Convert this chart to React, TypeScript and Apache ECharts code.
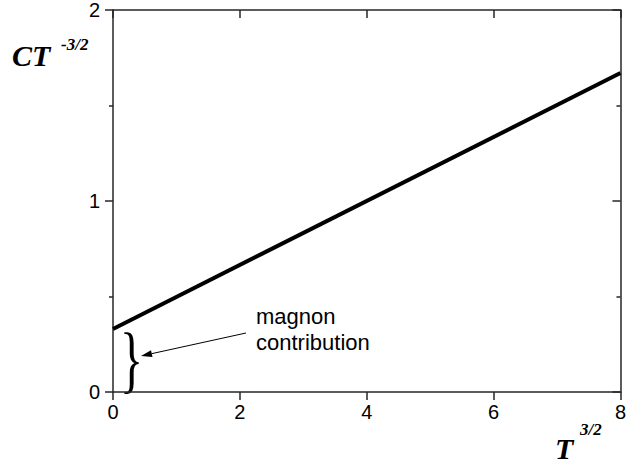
import React, { useEffect, useRef } from "react";
import * as echarts from "echarts";

// Linear fit of C/T^{3/2} against T^{3/2}
const xValues = [0, 8];
const yValues = [0.33, 1.67];
const xTicks = [0, 2, 4, 6, 8];
const yTicks = [0, 1, 2];

const AXIS_COLOR = "#262626";
const SANS = "'Liberation Sans', Arial, sans-serif";
const SERIF = "'Liberation Serif', 'Times New Roman', serif";

export default function App() {
  const ref = useRef<HTMLDivElement>(null);

  useEffect(() => {
    if (!ref.current) return;
    const chart = echarts.init(ref.current, undefined, { renderer: "svg" });

    const mkLine = () => ({ show: true, onZero: false, lineStyle: { color: AXIS_COLOR, width: 1.5 } });
    const mkTick = (inside: boolean, length: number) => ({
      show: true,
      inside,
      length,
      lineStyle: { color: AXIS_COLOR, width: 1.5 },
    });
    const minor = () => ({ show: true, splitNumber: 2, length: 4, lineStyle: { color: AXIS_COLOR, width: 1.5 } });
    const xBase = () => ({
      type: "value" as const,
      min: xTicks[0],
      max: xTicks[xTicks.length - 1],
      interval: 2,
      splitLine: { show: false },
      axisLine: mkLine(),
    });
    const yBase = () => ({
      type: "value" as const,
      min: yTicks[0],
      max: yTicks[yTicks.length - 1],
      interval: 1,
      splitLine: { show: false },
      axisLine: mkLine(),
    });

    // arrow from the note to the brace
    const ax0 = 246, ay0 = 333, ax1 = 141, ay1 = 356;
    const ang = Math.atan2(ay1 - ay0, ax1 - ax0);
    const headLen = 11, headHalf = 3.5;
    const bx = ax1 - headLen * Math.cos(ang);
    const by = ay1 - headLen * Math.sin(ang);
    const nx = -Math.sin(ang), ny = Math.cos(ang);

    const text = (x: number, y: number, s: string, font: string, extra: any = {}) => ({
      type: "text",
      x,
      y,
      ...extra,
      style: { text: s, font, fill: "#000", textVerticalAlign: "middle" },
    });

    chart.setOption({
      animation: false,
      grid: { left: 113, top: 9, width: 517, height: 383 },
      xAxis: [
        {
          ...xBase(),
          position: "bottom",
          axisTick: mkTick(false, 8),
          axisLabel: { show: true, margin: 10, fontSize: 20, fontFamily: SANS, color: "#000" },
        },
        {
          ...xBase(),
          position: "top",
          axisTick: mkTick(true, 8),
          axisLabel: { show: false },
        },
      ],
      yAxis: [
        {
          ...yBase(),
          position: "left",
          axisTick: mkTick(false, 8),
          minorTick: minor(),
          axisLabel: { show: true, margin: 13, fontSize: 20, fontFamily: SANS, color: "#000" },
        },
        {
          ...yBase(),
          position: "right",
          axisTick: mkTick(true, 8),
          minorTick: minor(),
          axisLabel: { show: false },
        },
      ],
      series: [
        {
          type: "line",
          xAxisIndex: 0,
          yAxisIndex: 0,
          data: xValues.map((x, i) => [x, yValues[i]]),
          showSymbol: false,
          symbol: "none",
          lineStyle: { color: "#000", width: 4 },
        },
      ],
      graphic: [
        text(12, 55, "CT", `italic bold 30px ${SERIF}`),
        text(61, 44, "-3/2", `italic bold 17px ${SERIF}`),
        text(555, 448, "T", `italic bold 30px ${SERIF}`),
        text(580, 429, "3/2", `italic bold 17px ${SERIF}`),
        text(256, 316, "magnon", `22px ${SANS}`),
        text(256, 342, "contribution", `22px ${SANS}`),
        text(120, 359, "}", `74px ${SERIF}`, { scaleX: 0.65 }),
        { type: "line", shape: { x1: ax0, y1: ay0, x2: bx, y2: by }, style: { stroke: "#000", lineWidth: 1 } },
        {
          type: "polygon",
          shape: {
            points: [
              [ax1, ay1],
              [bx + nx * headHalf, by + ny * headHalf],
              [bx - nx * headHalf, by - ny * headHalf],
            ],
          },
          style: { fill: "#000" },
        },
      ],
    });

    return () => chart.dispose();
  }, []);

  // sized to the window exactly so the page never scrolls
  return (
    <div
      ref={ref}
      style={{ position: "fixed", left: 0, top: 0, width: 629, height: 466, overflow: "hidden", background: "#fff" }}
    />
  );
}
